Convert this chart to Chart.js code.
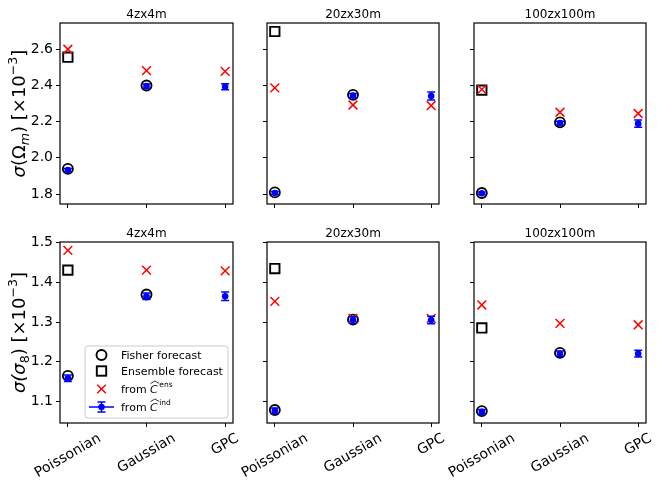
<!DOCTYPE html>
<html>
<head>
<meta charset="utf-8">
<script src="https://cdn.jsdelivr.net/npm/chart.js@4.4.0/dist/chart.umd.min.js"></script>
<style>
  body { margin: 0; background: #fff; }
  #wrap { position: relative; width: 664px; height: 493px; overflow: hidden; }
  #wrap canvas { position: absolute; }
</style>
</head>
<body>
<div id="wrap"></div>
<script>
// ---- data (values in units of 1e-3) ----
const categories = ['Poissonian', 'Gaussian', 'GPC'];
const panelTitles = ['4zx4m', '20zx30m', '100zx100m'];

// sigma(Omega_m): one inner array per panel column
const fisherOm    = [[1.939, 2.400, null], [1.809, 2.348, null], [1.806, 2.196, null]];
const ensembleOm  = [[2.556, null, null], [2.698, null, null], [2.374, null, null]];
const fromEnsOm   = [[2.600, 2.482, 2.478], [2.387, 2.292, 2.289], [2.378, 2.252, 2.245]];
const fromIndOm   = [[1.933, 2.396, 2.393], [1.806, 2.344, 2.342], [1.804, 2.192, 2.189]];
const fromIndErrOm = [[0.008, 0.012, 0.017], [0.008, 0.012, 0.022], [0.007, 0.010, 0.020]];

// sigma(sigma_8)
const fisherS8    = [[1.164, 1.3695, null], [1.078, 1.306, null], [1.075, 1.222, null]];
const ensembleS8  = [[1.431, null, null], [1.435, null, null], [1.285, null, null]];
const fromEnsS8   = [[1.481, 1.431, 1.429], [1.352, 1.309, 1.309], [1.343, 1.2966, 1.293]];
const fromIndS8   = [[1.158, 1.365, 1.365], [1.076, 1.305, 1.305], [1.073, 1.220, 1.220]];
const fromIndErrS8 = [[0.008, 0.008, 0.0105], [0.007, 0.008, 0.0097], [0.006, 0.007, 0.0085]];

const yTicksOm = [1.8, 2.0, 2.2, 2.4, 2.6];
const yTicksS8 = [1.1, 1.2, 1.3, 1.4, 1.5];
const yRangeOm = [1.745, 2.745];
const yRangeS8 = [1.045, 1.502];

const legendLabels = ['Fisher forecast', 'Ensemble forecast', 'from ', 'from '];

// ---- layout ----
const FONT = '"DejaVu Sans", sans-serif';
const colLefts = [60, 267, 474];
const colWidths = [173, 172, 172];
const rowTops = [23, 242];
const plotH = 181;
const padL = 60, padT = 23, padR = 12, padB = 70;

const rows = [
  { fisher: fisherOm, ens: ensembleOm, fromEns: fromEnsOm, fromInd: fromIndOm, err: fromIndErrOm,
    ticks: yTicksOm, range: yRangeOm,
    ylabel: [{t: 'σ', it: true}, {t: '(Ω'}, {t: 'm', it: true, s: 'sub'}, {t: ') [×10'}, {t: '−3', s: 'sup'}, {t: ']'}] },
  { fisher: fisherS8, ens: ensembleS8, fromEns: fromEnsS8, fromInd: fromIndS8, err: fromIndErrS8,
    ticks: yTicksS8, range: yRangeS8,
    ylabel: [{t: 'σ', it: true}, {t: '(σ', it: true}, {t: '8', s: 'sub'}, {t: ') [×10'}, {t: '−3', s: 'sup'}, {t: ']'}] }
];

function toPts(vals) {
  const pts = [];
  vals.forEach((v, i) => { if (v !== null) pts.push({x: i, y: v}); });
  return pts;
}

function drawPieces(ctx, pieces, size, x0, y0, align) {
  const m = pieces.map(p => {
    const fs = p.s ? size * 0.7 : size;
    const font = (p.it ? 'italic ' : '') + fs + 'px ' + FONT;
    ctx.font = font;
    return { font, w: ctx.measureText(p.t).width,
             dy: p.s === 'sub' ? size * 0.2 : (p.s === 'sup' ? -size * 0.45 : 0) };
  });
  const total = m.reduce((a, b) => a + b.w, 0);
  let xx = align === 'center' ? x0 - total / 2 : x0;
  ctx.textAlign = 'left';
  ctx.textBaseline = 'alphabetic';
  pieces.forEach((p, i) => {
    ctx.font = m[i].font;
    ctx.fillText(p.t, xx, y0 + m[i].dy);
    xx += m[i].w;
  });
  return xx;
}

function hatC(ctx, x, y, sup) {
  // C with a wide hat and a superscript
  ctx.font = 'italic 11px ' + FONT;
  ctx.textAlign = 'left';
  ctx.fillText('C', x, y);
  const w = ctx.measureText('C').width;
  ctx.beginPath();
  ctx.lineWidth = 0.8;
  ctx.moveTo(x + 0.5, y - 9.5);
  ctx.lineTo(x + w / 2 + 1, y - 12);
  ctx.lineTo(x + w + 1.5, y - 9.5);
  ctx.stroke();
  ctx.font = '7.5px ' + FONT;
  ctx.fillText(sup, x + w + 1.5, y - 6);
}

function drawLegend(ctx, ox, oy) {
  ctx.save();
  ctx.beginPath();
  ctx.roundRect(85 - ox, 346 - oy, 143, 72, 3);
  ctx.fillStyle = 'rgba(255,255,255,0.8)';
  ctx.fill();
  ctx.strokeStyle = '#cccccc';
  ctx.lineWidth = 1;
  ctx.stroke();

  const mx = 101.5 - ox, tx = 121 - ox;
  const ys = [355, 371, 389, 407].map(v => v - oy);
  // circle
  ctx.strokeStyle = '#000'; ctx.lineWidth = 1.9;
  ctx.beginPath(); ctx.arc(mx, ys[0], 5, 0, Math.PI * 2); ctx.stroke();
  // square
  ctx.strokeRect(mx - 4.7, ys[1] - 4.7, 9.4, 9.4);
  // red x
  ctx.strokeStyle = '#ff0000'; ctx.lineWidth = 1.5;
  ctx.beginPath();
  ctx.moveTo(mx - 4.3, ys[2] - 4.3); ctx.lineTo(mx + 4.3, ys[2] + 4.3);
  ctx.moveTo(mx + 4.3, ys[2] - 4.3); ctx.lineTo(mx - 4.3, ys[2] + 4.3);
  ctx.stroke();
  // errorbar handle
  ctx.strokeStyle = '#0000ff'; ctx.fillStyle = '#0000ff';
  ctx.beginPath();
  ctx.moveTo(89 - ox, ys[3]); ctx.lineTo(114 - ox, ys[3]);
  ctx.moveTo(mx, ys[3] - 5); ctx.lineTo(mx, ys[3] + 5);
  ctx.moveTo(mx - 4, ys[3] - 5); ctx.lineTo(mx + 4, ys[3] - 5);
  ctx.moveTo(mx - 4, ys[3] + 5); ctx.lineTo(mx + 4, ys[3] + 5);
  ctx.stroke();
  ctx.beginPath(); ctx.arc(mx, ys[3], 3.2, 0, Math.PI * 2); ctx.fill();

  ctx.fillStyle = '#000'; ctx.strokeStyle = '#000';
  ctx.font = '11px ' + FONT;
  ctx.textAlign = 'left'; ctx.textBaseline = 'alphabetic';
  ctx.fillText(legendLabels[0], tx, ys[0] + 4);
  ctx.fillText(legendLabels[1], tx, ys[1] + 4);
  ctx.fillText(legendLabels[2], tx, ys[2] + 4);
  let w = ctx.measureText(legendLabels[2]).width;
  hatC(ctx, tx + w, ys[2] + 4, 'ens');
  ctx.font = '11px ' + FONT;
  ctx.fillText(legendLabels[3], tx, ys[3] + 4);
  w = ctx.measureText(legendLabels[3]).width;
  hatC(ctx, tx + w, ys[3] + 4, 'ind');
  ctx.restore();
}

function makeDecor(r, c, row, ox, oy) {
  return {
    id: 'decor' + r + c,
    beforeDatasetDraw(chart, args) {
      if (args.index !== 3) return;
      const {ctx, scales: {x, y}} = chart;
      ctx.save();
      ctx.strokeStyle = '#0000ff';
      ctx.lineWidth = 1.5;
      row.fromInd[c].forEach((v, i) => {
        const e = row.err[c][i];
        const px = x.getPixelForValue(i);
        const y1 = y.getPixelForValue(v - e), y2 = y.getPixelForValue(v + e);
        ctx.beginPath();
        ctx.moveTo(px, y1); ctx.lineTo(px, y2);
        ctx.moveTo(px - 4, y1); ctx.lineTo(px + 4, y1);
        ctx.moveTo(px - 4, y2); ctx.lineTo(px + 4, y2);
        ctx.stroke();
      });
      ctx.restore();
    },
    afterDraw(chart) {
      const {ctx, chartArea: a, scales: {x}} = chart;
      ctx.save();
      // frame
      ctx.strokeStyle = '#000';
      ctx.lineWidth = 1.2;
      ctx.strokeRect(a.left, a.top, a.right - a.left, a.bottom - a.top);
      // title
      ctx.fillStyle = '#000';
      ctx.font = '12px ' + FONT;
      ctx.textAlign = 'center';
      ctx.textBaseline = 'alphabetic';
      ctx.fillText(panelTitles[c], (a.left + a.right) / 2, a.top - 5.5);
      // rotated category labels (bottom row only), centred on the ticks
      if (r === 1) {
        ctx.font = '14px ' + FONT;
        categories.forEach((lab, i) => {
          const px = x.getPixelForValue(i);
          const w = ctx.measureText(lab).width;
          const h = 16;
          const bh = w * 0.5 + h * 0.866;
          ctx.save();
          ctx.translate(px, a.bottom + 7.5 + bh / 2);
          ctx.rotate(-Math.PI / 6);
          ctx.textAlign = 'center';
          ctx.textBaseline = 'middle';
          ctx.fillText(lab, 0, 0);
          ctx.restore();
        });
      }
      // y label
      if (c === 0) {
        ctx.save();
        ctx.translate(25, (a.top + a.bottom) / 2);
        ctx.rotate(-Math.PI / 2);
        drawPieces(ctx, row.ylabel, 18, 0, 0, 'center');
        ctx.restore();
      }
      if (r === 1 && c === 0) drawLegend(ctx, ox, oy);
      ctx.restore();
    }
  };
}

const wrap = document.getElementById('wrap');
rows.forEach((row, r) => {
  colLefts.forEach((cl, c) => {
    const cv = document.createElement('canvas');
    const ox = cl - padL, oy = rowTops[r] - padT;
    const W = colWidths[c] + padL + padR, H = plotH + padT + padB;
    cv.width = W; cv.height = H;
    cv.style.left = ox + 'px'; cv.style.top = oy + 'px';
    cv.style.width = W + 'px'; cv.style.height = H + 'px';
    wrap.appendChild(cv);

    new Chart(cv, {
      type: 'scatter',
      data: {
        datasets: [
          { label: 'Fisher forecast', data: toPts(row.fisher[c]), order: 4,
            pointStyle: 'circle', pointRadius: 5, borderWidth: 1.9,
            borderColor: '#000', backgroundColor: 'rgba(0,0,0,0)' },
          { label: 'Ensemble forecast', data: toPts(row.ens[c]), order: 3,
            pointStyle: 'rect', pointRadius: 6.6, borderWidth: 1.9,
            borderColor: '#000', backgroundColor: 'rgba(0,0,0,0)' },
          { label: 'from C ens', data: toPts(row.fromEns[c]), order: 2,
            pointStyle: 'crossRot', pointRadius: 6.2, borderWidth: 1.5,
            borderColor: '#ff0000', backgroundColor: '#ff0000' },
          { label: 'from C ind', data: toPts(row.fromInd[c]), order: 1,
            pointStyle: 'circle', pointRadius: 3.3, borderWidth: 0,
            borderColor: '#0000ff', backgroundColor: '#0000ff' }
        ]
      },
      options: {
        responsive: false,
        animation: false,
        events: [],
        layout: { padding: { top: padT, right: padR, left: 0, bottom: 0 } },
        plugins: { legend: { display: false }, tooltip: { enabled: false } },
        scales: {
          x: {
            type: 'linear', min: -0.1, max: 2.1,
            afterBuildTicks: s => { s.ticks = categories.map((_, i) => ({ value: i })); },
            afterFit: s => { s.height = padB; },
            ticks: { display: false },
            grid: { drawOnChartArea: false, tickLength: 4, color: '#000', lineWidth: 1 },
            border: { display: false }
          },
          y: {
            min: row.range[0], max: row.range[1],
            afterBuildTicks: s => { s.ticks = row.ticks.map(v => ({ value: v })); },
            afterFit: s => { s.width = padL; },
            ticks: { display: c === 0, callback: v => v.toFixed(1), color: '#000',
                     font: { family: FONT, size: 14 }, padding: 3 },
            grid: { drawOnChartArea: false, tickLength: 4, color: '#000', lineWidth: 1 },
            border: { display: false }
          }
        }
      },
      plugins: [makeDecor(r, c, row, ox, oy)]
    });
  });
});
</script>
</body>
</html>
